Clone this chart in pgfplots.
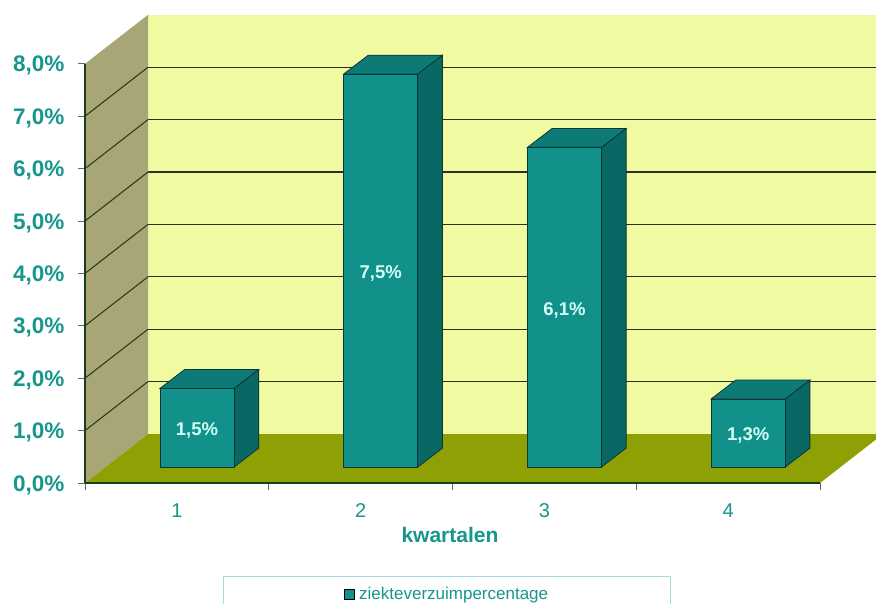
\documentclass[border=0pt]{standalone}
\usepackage{fontspec}
\setmainfont{Liberation Sans}
\usepackage{pgfplots}
\usepackage{pgfplotstable}
\pgfplotsset{compat=1.18}

\definecolor{tealtext}{RGB}{22,150,140}
\definecolor{backwall}{RGB}{240,250,160}
\definecolor{sidewall}{RGB}{168,166,118}
\definecolor{floorc}{RGB}{142,160,4}
\definecolor{barfront}{RGB}{18,144,138}
\definecolor{bartop}{RGB}{14,122,117}
\definecolor{barside}{RGB}{10,104,100}
\definecolor{baredge}{RGB}{10,55,55}
\definecolor{gridc}{RGB}{40,50,30}
\definecolor{axisc}{RGB}{25,60,25}
\definecolor{labelc}{RGB}{210,255,248}
\definecolor{legborder}{RGB}{168,220,216}

\pgfplotstableread{
q v
1 1.5
2 7.5
3 6.1
4 1.3
}\datatable

\newcommand{\gridback}[1]{\addplot[gridc, line width=1.1pt, forget plot] coordinates {(0.8429,#1) (4.8429,#1)};}
\newcommand{\gridside}[2]{\addplot[gridc, line width=1.0pt, forget plot] coordinates {(0.5,#1) (0.8429,#2)};}
\newcommand{\drawbar}[2]{%
  \pgfmathsetmacro{\qL}{#1-0.092}%
  \pgfmathsetmacro{\qR}{#1+0.311}%
  \pgfmathsetmacro{\qLd}{#1+0.042}%
  \pgfmathsetmacro{\qRd}{#1+0.445}%
  \pgfmathsetmacro{\qB}{0.305}%
  \pgfmathsetmacro{\qBd}{0.665}%
  \pgfmathsetmacro{\qT}{#2+0.305}%
  \pgfmathsetmacro{\qTd}{#2+0.665}%
  \addplot[fill=barside, draw=baredge, line width=0.8pt, forget plot] coordinates {(\qR,\qB) (\qRd,\qBd) (\qRd,\qTd) (\qR,\qT)} -- cycle;
  \addplot[fill=bartop, draw=baredge, line width=0.8pt, forget plot] coordinates {(\qL,\qT) (\qR,\qT) (\qRd,\qTd) (\qLd,\qTd)} -- cycle;
  \addplot[fill=barfront, draw=baredge, line width=0.8pt, forget plot] coordinates {(\qL,\qB) (\qR,\qB) (\qR,\qT) (\qL,\qT)} -- cycle;
}

\begin{document}
\begin{tikzpicture}
\useasboundingbox (-85pt,-120pt) rectangle (791pt,483pt);
\begin{axis}[
  scale only axis, width=735pt, height=419.2pt,
  xmin=0.5, xmax=4.5, ymin=0, ymax=8, clip=false,
  axis on top,
  axis x line*=bottom, axis y line*=left,
  axis line style={axisc, line width=1.6pt},
  xtick={1,2,3,4}, xticklabels={1,2,3,4},
  minor xtick={0.5,1.5,2.5,3.5,4.5},
  ytick={0,1,2,3,4,5,6,7,8},
  yticklabels={{0,0\%},{1,0\%},{2,0\%},{3,0\%},{4,0\%},{5,0\%},{6,0\%},{7,0\%},{8,0\%}},
  tick align=outside,
  major tick length=7pt, minor tick length=7pt,
  every major x tick/.append style={draw=none},
  tick style={black!60, line width=0.8pt},
  yticklabel style={font=\fontsize{22.5}{24}\selectfont\bfseries, text=tealtext, xshift=-10pt, yshift=-2pt},
  xticklabel style={font=\fontsize{20}{22}\selectfont, text=tealtext, yshift=-10pt},
  xlabel={kwartalen},
  xlabel style={font=\fontsize{21}{24}\selectfont\bfseries, text=tealtext, at={(axis description cs:0.4966,-0.143)}, anchor=base},
  legend style={at={(axis description cs:0.4925,-0.2218)}, anchor=north, draw=legborder, line width=1pt,
    inner xsep=120pt, minimum height=32pt, font=\fontsize{17}{19}\selectfont, text=tealtext},
  legend cell align=left,
]
\addlegendimage{legend image code/.code={\draw[fill=barfront, draw=black, line width=0.8pt] (0pt,-5pt) rectangle (10pt,5pt); \path[draw=none, fill=none] (0pt,-5pt) rectangle (13pt,5pt);}}
\addlegendentry{ziekteverzuimpercentage}

% back wall
\addplot[fill=backwall, draw=none, forget plot] coordinates {(0.8429,0.9351) (4.8429,0.9351) (4.8429,8.9351) (0.8429,8.9351)} -- cycle;
\gridback{1.9351}\gridback{2.9351}\gridback{3.9351}\gridback{4.9351}\gridback{5.9351}\gridback{6.9351}\gridback{7.9351}
% left wall
\addplot[fill=sidewall, draw=none, forget plot] coordinates {(0.5,0) (0.8429,0.9351) (0.8429,8.9351) (0.5,8)} -- cycle;
\gridside{1}{1.9351}\gridside{2}{2.9351}\gridside{3}{3.9351}\gridside{4}{4.9351}\gridside{5}{5.9351}\gridside{6}{6.9351}\gridside{7}{7.9351}
% floor
\addplot[fill=floorc, draw=none, forget plot] coordinates {(0.5,0) (4.5,0) (4.8429,0.9351) (0.8429,0.9351)} -- cycle;

% bars
\drawbar{1}{1.5}
\drawbar{2}{7.5}
\drawbar{3}{6.1}
\drawbar{4}{1.3}

% labels
\addplot[draw=none, mark=none, forget plot, point meta=explicit,
  nodes near coords={\pgfmathprintnumber[fixed,fixed zerofill,precision=1,use comma,assume math mode=true]{\pgfplotspointmeta}\%},
  nodes near coords style={anchor=center, yshift=-3pt, font=\fontsize{18.5}{20}\selectfont\bfseries, text=labelc}]
  table[x expr=\thisrow{q}+0.1095, y expr=\thisrow{v}/2+0.305, meta=v] {\datatable};
\end{axis}
\end{tikzpicture}
\end{document}
